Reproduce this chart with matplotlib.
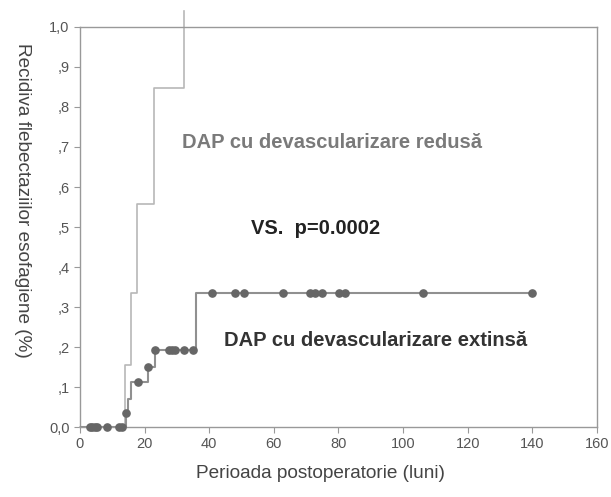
import matplotlib
matplotlib.use("Agg")
import matplotlib.pyplot as plt
import numpy as np

plt.rcParams['font.family'] = ['Liberation Sans', 'DejaVu Sans']

# Light curve: DAP cu devascularizare redusa
red_times = [0, 13.8, 15.8, 17.8, 23.0, 32.3]
red_vals = [0, 0.155, 0.336, 0.557, 0.848, 1.04]

# Dark curve: DAP cu devascularizare extinsa
ext_times = [0, 14.1, 14.9, 15.7, 21.1, 23.3, 35.8, 140]
ext_vals = [0, 0.035, 0.07, 0.112, 0.149, 0.193, 0.336, 0.336]
ext_censored = [3, 3.7, 4.5, 5.2, 8.5, 12, 13, 14.1, 18, 21.1, 23.3, 27.5, 28.5, 29.5,
                32.2, 35, 41, 48, 50.9, 62.9, 71.2, 72.8, 74.8, 80.2, 82, 106.3, 140]

xticks = [0, 20, 40, 60, 80, 100, 120, 140, 160]
yticks = [0, .1, .2, .3, .4, .5, .6, .7, .8, .9, 1.0]
ytick_labels = ['0,0', ',1', ',2', ',3', ',4', ',5', ',6', ',7', ',8', ',9', '1,0']

fig = plt.figure(figsize=(6.11, 4.97), dpi=100)
ax = fig.add_axes([0.1309, 0.1408, 0.8461, 0.8049])

ax.step(red_times, red_vals, where='post', color='#b8b8b8', lw=1.2, clip_on=False, zorder=2)
ax.step(ext_times, ext_vals, where='post', color='#909090', lw=1.5, zorder=3)
idx = np.searchsorted(ext_times, ext_censored, side='right') - 1
cy = np.array(ext_vals)[idx]
ax.plot(ext_censored, cy, 'o', color='#666666', ms=5.2, zorder=4, clip_on=False)

ax.set_xlim(0, 160)
ax.set_ylim(0, 1.0)
ax.set_xticks(xticks)
ax.set_yticks(yticks)
ax.set_yticklabels(ytick_labels)
for s in ax.spines.values():
    s.set_color('#999999')
    s.set_linewidth(1.0)
ax.tick_params(colors='#999999', labelcolor='#555555', labelsize=10.5, length=4, direction='out')

ax.set_xlabel('Perioada postoperatorie (luni)', fontsize=13.7, color='#444444', va='center')
ax.xaxis.set_label_coords(0.466, -0.115)
ax.set_ylabel('Recidiva flebectaziilor esofagiene (%)', fontsize=13.7, color='#444444',
              rotation=270, va='center', ha='center')
ax.yaxis.set_label_coords(-0.112, 0.567)

ax.text(0.487, 0.71, 'DAP cu devascularizare redusă', transform=ax.transAxes, ha='center',
        va='center', fontsize=14.5, fontweight='bold', color='#7a7a7a')
ax.text(0.456, 0.4975, 'VS.  p=0.0002', transform=ax.transAxes, ha='center',
        va='center', fontsize=14.5, fontweight='bold', color='#222222')
ax.text(0.5725, 0.2175, 'DAP cu devascularizare extinsă', transform=ax.transAxes, ha='center',
        va='center', fontsize=14.5, fontweight='bold', color='#333333')

fig.savefig('out.png', dpi=100)
